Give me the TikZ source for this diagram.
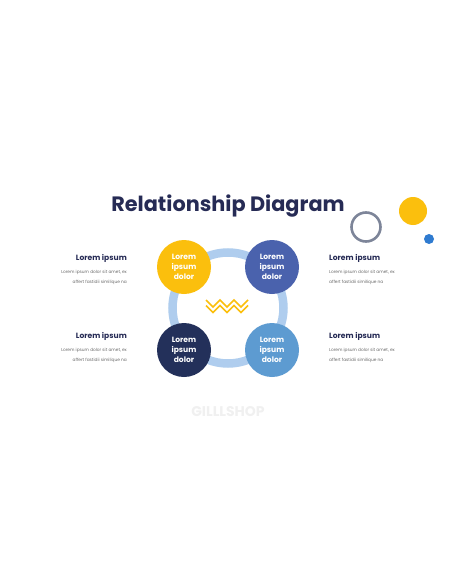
\documentclass[tikz,border=0pt]{standalone}
\usepackage{fontspec}
\setmainfont{Poppins}
\definecolor{navy}{HTML}{262B55}
\definecolor{cyellow}{HTML}{FBBF0D}
\definecolor{cblue}{HTML}{4A62AD}
\definecolor{cnavy}{HTML}{23305A}
\definecolor{clight}{HTML}{5D9BD1}
\definecolor{ring}{HTML}{AFCDEE}
\definecolor{greyring}{HTML}{7D8599}
\definecolor{dotblue}{HTML}{2F7BD0}
\definecolor{smallgrey}{HTML}{6A6A6A}
\tikzset{
  bubble/.style={circle,minimum size=54pt,inner sep=0pt,text=white,align=center,font=\fontsize{7.6}{9.7}\selectfont\bfseries},
  head/.style={font=\fontsize{7.6}{9}\selectfont\bfseries,text=navy,inner sep=0pt},
  small/.style={font=\fontsize{4.3}{10}\selectfont,text=smallgrey,inner sep=0pt},
}
\begin{document}
\begin{tikzpicture}[x=1pt,y=-1pt]
\useasboundingbox[fill=white] (0,0) rectangle (456,586);
% title
\node[font=\fontsize{20.8}{23}\selectfont\bfseries,text=navy,inner sep=0pt] (title) at (228,206) {Relationship Diagram};
% decorations
\node[circle,draw=greyring,line width=2.6pt,minimum size=29pt,inner sep=0pt] (gring) at (366,227) {};
\node[circle,fill=cyellow,minimum size=28pt,inner sep=0pt] (ydot) at (413,211) {};
\node[circle,fill=dotblue,minimum size=10pt,inner sep=0pt] (bdot) at (429,239) {};
% ring
\node[circle,draw=ring,line width=8.5pt,minimum size=111pt,inner sep=0pt] (bigring) at (228,308) {};
% bubbles
\node[bubble,fill=cyellow] (b1) at (184,267) {Lorem\\ipsum\\dolor};
\node[bubble,fill=cblue] (b2) at (272,267) {Lorem\\ipsum\\dolor};
\node[bubble,fill=cnavy] (b3) at (184,350) {Lorem\\ipsum\\dolor};
\node[bubble,fill=clight] (b4) at (272,350) {Lorem\\ipsum\\dolor};
% zigzags
\draw[cyellow,line width=1.6pt,line join=miter] (206,300) -- (213,307) -- (220,300) -- (227,307) -- (234,300) -- (241,307) -- (248,300);
\draw[cyellow,line width=1.6pt,line join=miter] (206,305.5) -- (213,312.5) -- (220,305.5) -- (227,312.5) -- (234,305.5) -- (241,312.5) -- (248,305.5);
% left texts
\node[head,anchor=east] (l1h) at (127,258) {Lorem ipsum};
\node[small,anchor=east] (l1a) at (127,272) {Lorem ipsum dolor sit amet, ex};
\node[small,anchor=east] (l1b) at (127,282) {affert fastidii similique na};
\node[head,anchor=east] (l2h) at (127,336) {Lorem ipsum};
\node[small,anchor=east] (l2a) at (127,350) {Lorem ipsum dolor sit amet, ex};
\node[small,anchor=east] (l2b) at (127,360) {affert fastidii similique na};
% right texts
\node[head,anchor=west] (r1h) at (329,258) {Lorem ipsum};
\node[small,anchor=west] (r1a) at (329,272) {Lorem ipsum dolor sit amet, ex};
\node[small,anchor=west] (r1b) at (329,282) {affert fastidii similique na};
\node[head,anchor=west] (r2h) at (329,336) {Lorem ipsum};
\node[small,anchor=west] (r2a) at (329,350) {Lorem ipsum dolor sit amet, ex};
\node[small,anchor=west] (r2b) at (329,360) {affert fastidii similique na};
% watermark
\node[font=\fontsize{14}{15}\selectfont\bfseries,text=black!6,inner sep=0pt] (wm) at (228,412) {GILLLSHOP};
\end{tikzpicture}
\end{document}
